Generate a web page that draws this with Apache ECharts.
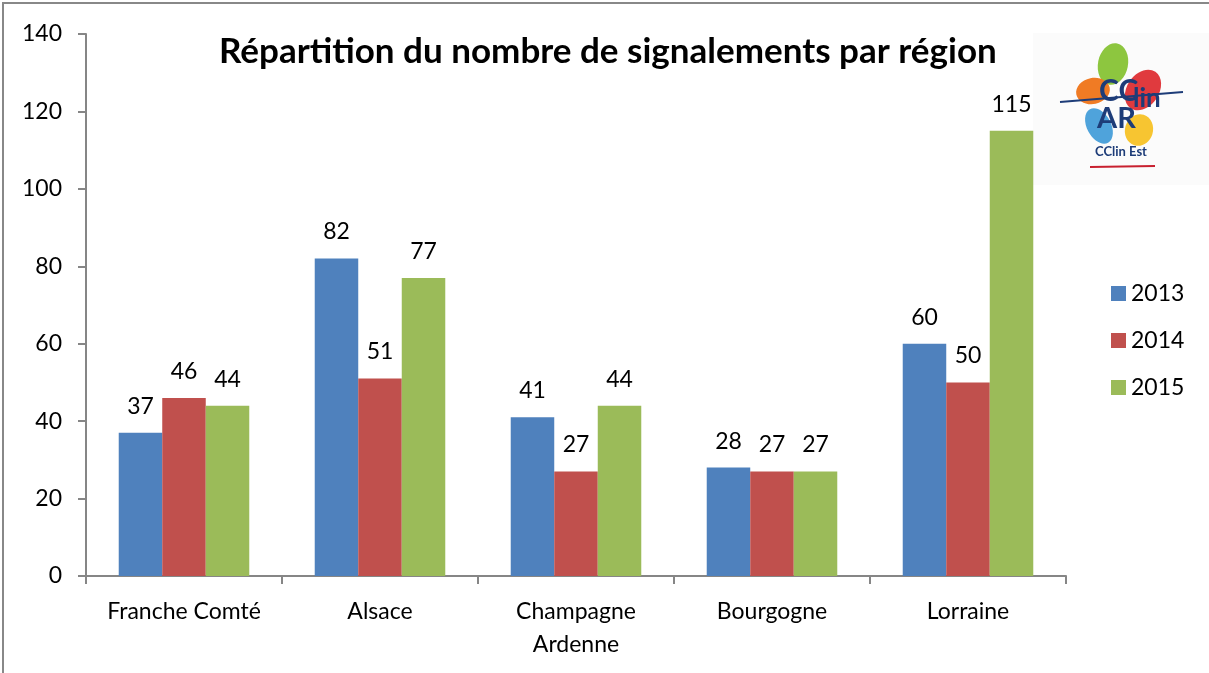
<!DOCTYPE html>
<html><head><meta charset="utf-8">
<script src="https://cdn.jsdelivr.net/npm/echarts@6/dist/echarts.min.js"></script>
<style>html,body{margin:0;padding:0;background:#fff}#c{width:1209px;height:673px}</style>
</head><body><div id="c"></div>
<script>
const categories = ['Franche Comté', 'Alsace', 'Champagne\nArdenne', 'Bourgogne', 'Lorraine'];
const years = ['2013', '2014', '2015'];
const v2013 = [37, 82, 41, 28, 60];
const v2014 = [46, 51, 27, 27, 50];
const v2015 = [44, 77, 44, 27, 115];
const yTicks = [0, 20, 40, 60, 80, 100, 120, 140];
const colors = ['#4F81BD', '#C0504D', '#9BBB59'];
const FONT = 'Lato, "Open Sans", sans-serif';

const chart = echarts.init(document.getElementById('c'));
const mk = (name, data, i) => ({
  name, type: 'bar', data, barWidth: '22.2%', barGap: '0%',
  itemStyle: { color: colors[i] },
  label: { show: true, position: 'top', distance: 15, fontSize: 23, color: '#000', fontFamily: FONT },
  emphasis: { disabled: true }
});
chart.setOption({
  animation: false,
  title: { text: 'Répartition du nombre de signalements par région', left: 214, top: 29,
    textStyle: { fontSize: 35, fontWeight: 'bold', color: '#000', fontFamily: FONT } },
  legend: { orient: 'vertical', left: 1106, top: 277, itemWidth: 15, itemHeight: 15, itemGap: 24,
    data: years, icon: 'rect', textStyle: { fontSize: 23, color: '#000', fontFamily: FONT } },
  grid: { left: 86, right: 143, top: 34, bottom: 97, containLabel: false },
  xAxis: { type: 'category', data: categories,
    axisLine: { lineStyle: { color: '#868686', width: 2 } },
    axisTick: { show: true, length: 8, lineStyle: { color: '#868686', width: 2 } },
    axisLabel: { interval: 0, fontSize: 23, color: '#000', fontFamily: FONT, margin: 19, lineHeight: 33 } },
  yAxis: { type: 'value', min: 0, max: 140, interval: 20,
    axisLine: { show: true, lineStyle: { color: '#868686', width: 2 } },
    axisTick: { show: true, length: 8, lineStyle: { color: '#868686', width: 2 } },
    splitLine: { show: false },
    axisLabel: { fontSize: 23, color: '#000', fontFamily: FONT, margin: 24,
      formatter: v => yTicks.includes(v) ? String(v) : '' } },
  series: [mk(years[0], v2013, 0), mk(years[1], v2014, 1), mk(years[2], v2015, 2)],
  graphic: [
    { type: 'rect', shape: { x: 3, y: 3, width: 1220, height: 690 }, style: { fill: 'none', stroke: '#888', lineWidth: 2 }, silent: true },
    { type: 'group', silent: true, children: [
      { type: 'rect', shape: { x: 1033, y: 33, width: 176, height: 152 }, style: { fill: '#fbfbfb' } },
      { type: 'ellipse', shape: { cx: 1113, cy: 64, rx: 15, ry: 21 }, rotation: -0.2, originX: 1113, originY: 64, style: { fill: '#8DC63F' } },
      { type: 'ellipse', shape: { cx: 1143, cy: 90, rx: 16, ry: 22 }, rotation: -0.6, originX: 1143, originY: 90, style: { fill: '#E03A3E' } },
      { type: 'ellipse', shape: { cx: 1093, cy: 91, rx: 17, ry: 13 }, rotation: 0.2, originX: 1093, originY: 91, style: { fill: '#F07B24' } },
      { type: 'ellipse', shape: { cx: 1099, cy: 126, rx: 12, ry: 19 }, rotation: 0.5, originX: 1099, originY: 126, style: { fill: '#4FA3DB' } },
      { type: 'ellipse', shape: { cx: 1139, cy: 130, rx: 14, ry: 16 }, rotation: -0.3, originX: 1139, originY: 130, style: { fill: '#F7C531' } },
      { type: 'line', shape: { x1: 1060, y1: 102, x2: 1183, y2: 92 }, style: { stroke: '#1D3C78', lineWidth: 2 } },
      { type: 'text', style: { x: 1099, y: 76, text: 'CC', fontSize: 30, fontWeight: 'bold', fill: '#1D3C78', fontFamily: FONT } },
      { type: 'text', style: { x: 1133, y: 86, text: 'lin', fontSize: 26, fontWeight: 'bold', fill: '#1D3C78', fontFamily: FONT } },
      { type: 'text', style: { x: 1097, y: 104, text: 'AR', fontSize: 29, fontWeight: 'bold', fill: '#1D3C78', fontFamily: FONT } },
      { type: 'text', style: { x: 1095, y: 145, text: 'CClin Est', fontSize: 13, fontWeight: 'bold', fill: '#1D3C78', fontFamily: FONT } },
      { type: 'line', shape: { x1: 1090, y1: 167, x2: 1155, y2: 166 }, style: { stroke: '#C8202F', lineWidth: 2 } }
    ]}
  ]
});
</script></body></html>
